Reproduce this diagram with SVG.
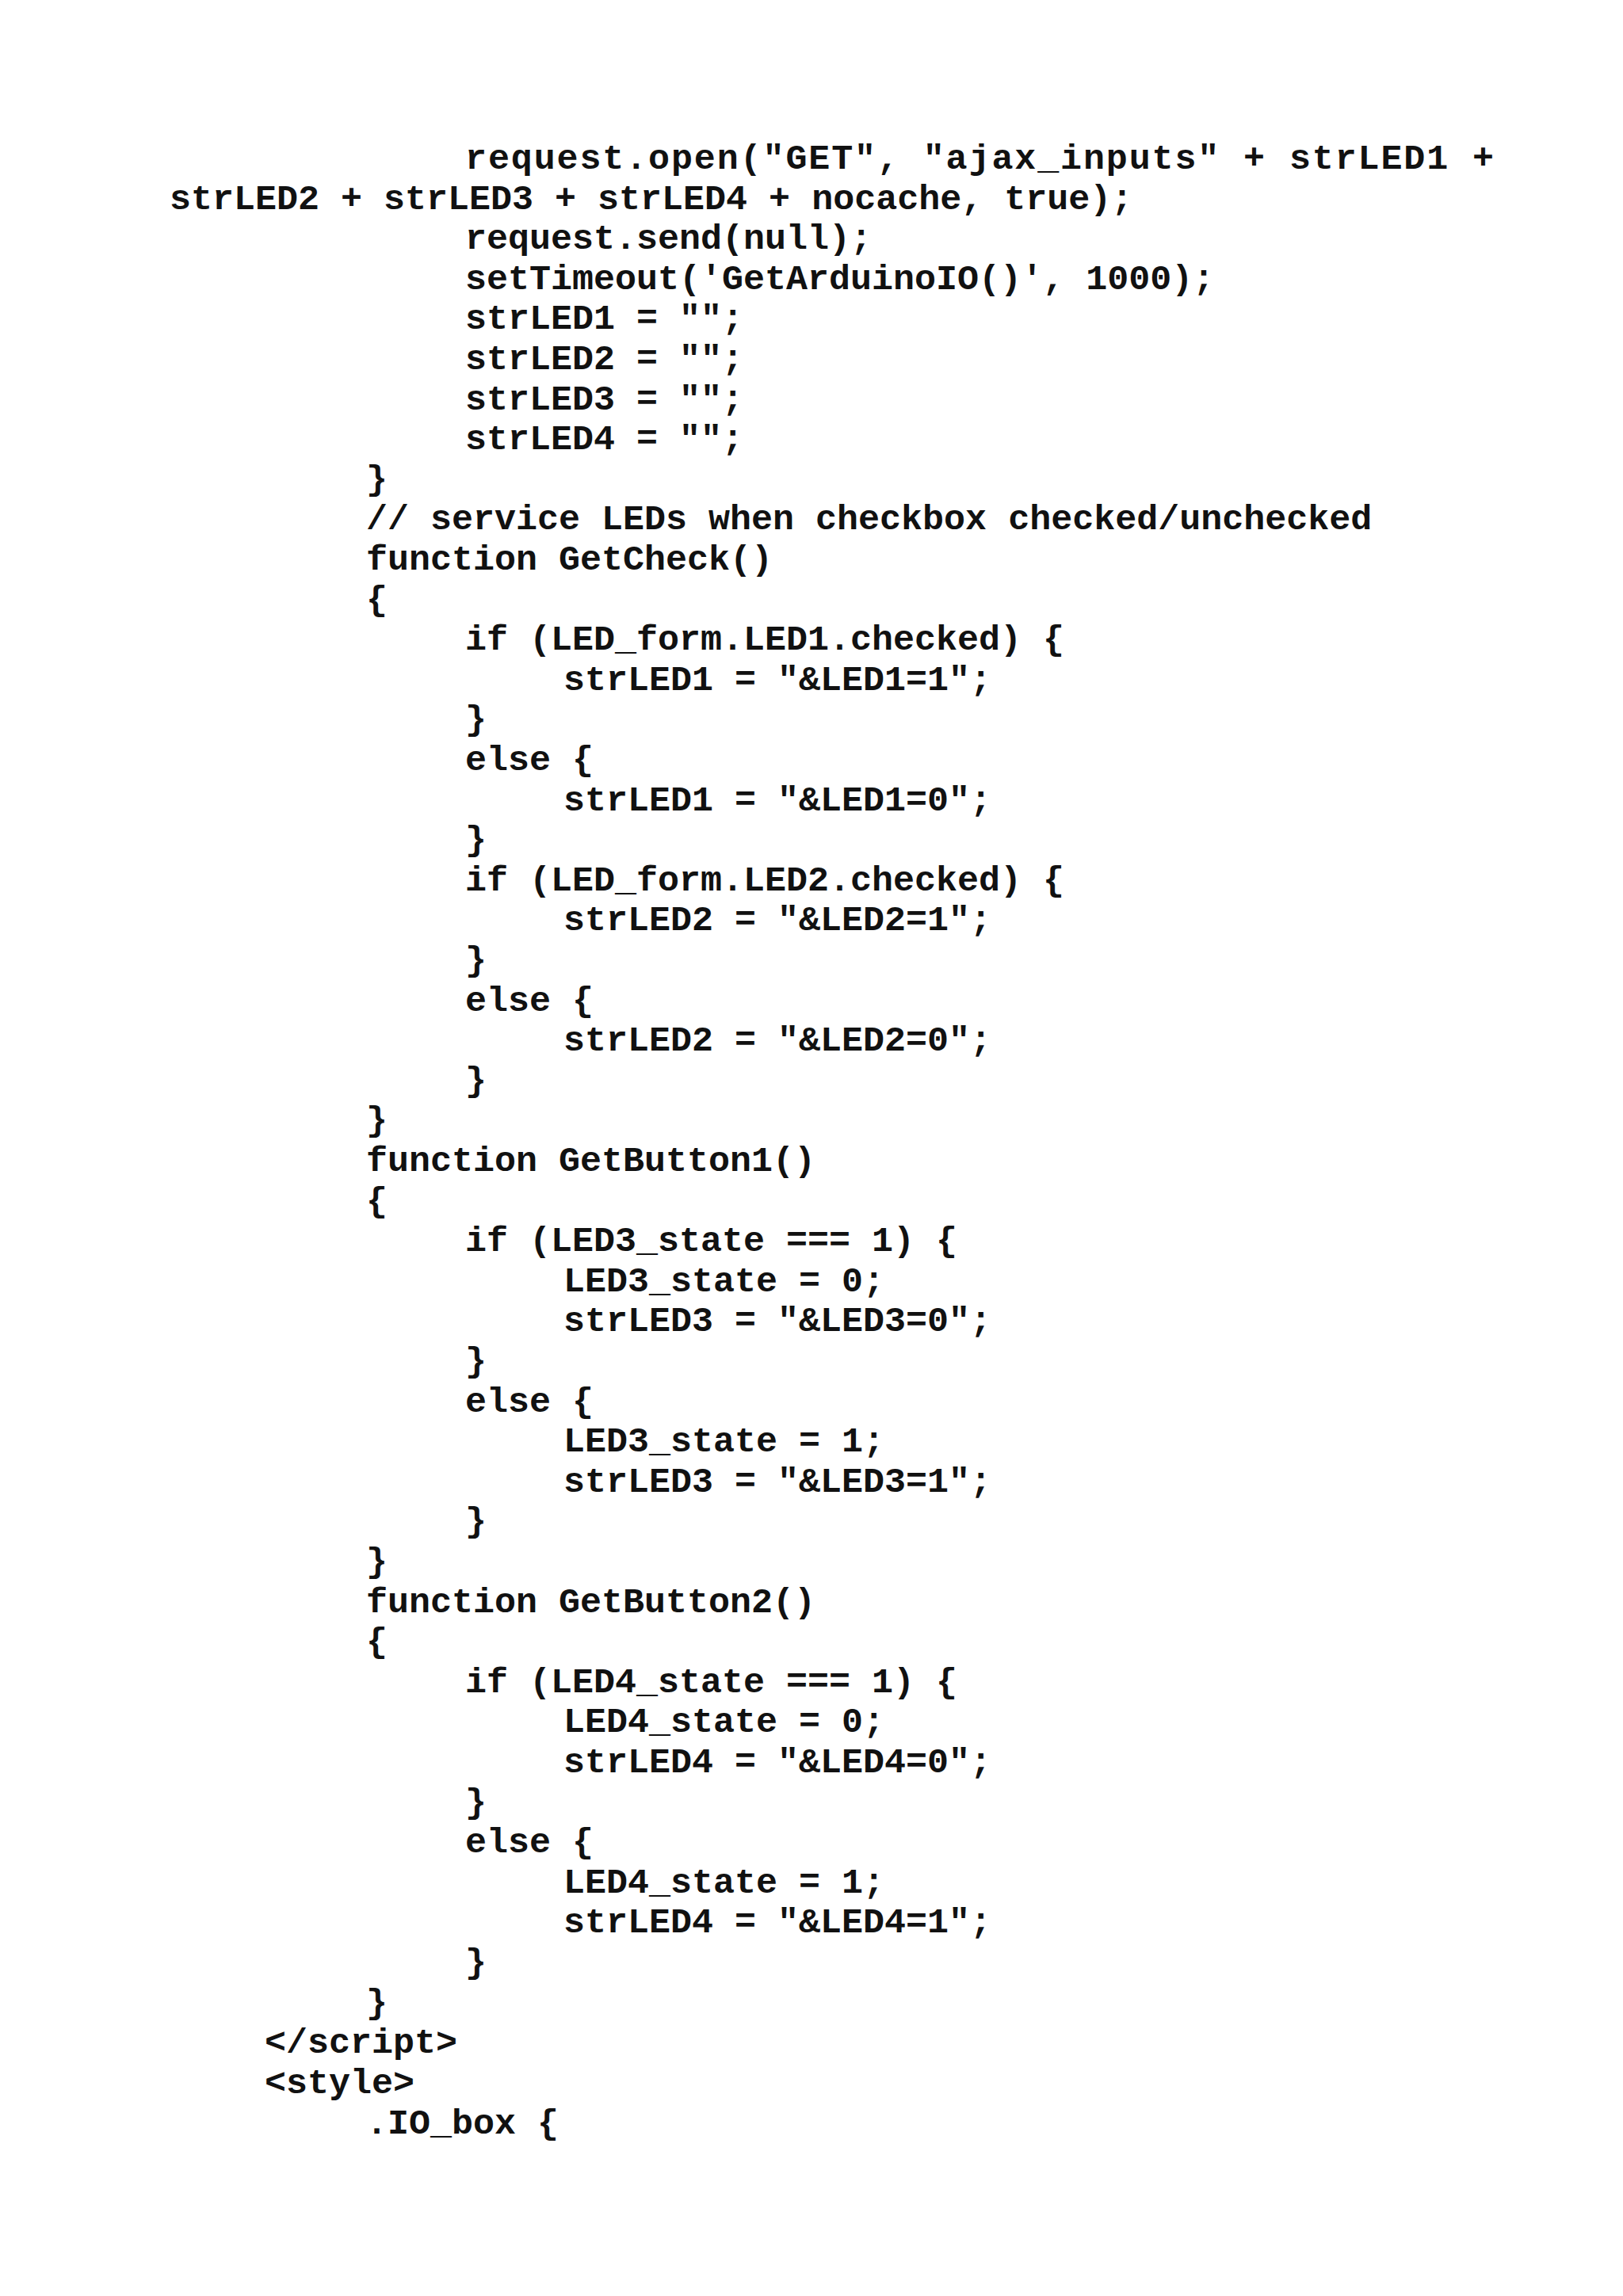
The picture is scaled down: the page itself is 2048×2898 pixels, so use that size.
<svg xmlns="http://www.w3.org/2000/svg" width="2048" height="2898" viewBox="0 0 2048 2898">
<style>text{font-family:"Liberation Mono","Courier New",monospace;font-weight:bold;font-size:45px;fill:#111;white-space:pre}</style>
<rect width="2048" height="2898" fill="#fff"/>
<g id="code" xml:space="preserve">
<text x="587" y="213" textLength="1298" lengthAdjust="spacing">request.open("GET", "ajax_inputs" + strLED1 +</text>
<text x="214" y="264">strLED2 + strLED3 + strLED4 + nocache, true);</text>
<text x="587" y="314">request.send(null);</text>
<text x="587" y="365">setTimeout('GetArduinoIO()', 1000);</text>
<text x="587" y="415">strLED1 = "";</text>
<text x="587" y="466">strLED2 = "";</text>
<text x="587" y="517">strLED3 = "";</text>
<text x="587" y="567">strLED4 = "";</text>
<text x="462" y="618">}</text>
<text x="462" y="668">// service LEDs when checkbox checked/unchecked</text>
<text x="462" y="719">function GetCheck()</text>
<text x="462" y="770">{</text>
<text x="587" y="820">if (LED_form.LED1.checked) {</text>
<text x="711" y="871">strLED1 = "&amp;LED1=1";</text>
<text x="587" y="921">}</text>
<text x="587" y="972">else {</text>
<text x="711" y="1023">strLED1 = "&amp;LED1=0";</text>
<text x="587" y="1073">}</text>
<text x="587" y="1124">if (LED_form.LED2.checked) {</text>
<text x="711" y="1174">strLED2 = "&amp;LED2=1";</text>
<text x="587" y="1225">}</text>
<text x="587" y="1276">else {</text>
<text x="711" y="1326">strLED2 = "&amp;LED2=0";</text>
<text x="587" y="1377">}</text>
<text x="462" y="1427">}</text>
<text x="462" y="1478">function GetButton1()</text>
<text x="462" y="1529">{</text>
<text x="587" y="1579">if (LED3_state === 1) {</text>
<text x="711" y="1630">LED3_state = 0;</text>
<text x="711" y="1680">strLED3 = "&amp;LED3=0";</text>
<text x="587" y="1731">}</text>
<text x="587" y="1782">else {</text>
<text x="711" y="1832">LED3_state = 1;</text>
<text x="711" y="1883">strLED3 = "&amp;LED3=1";</text>
<text x="587" y="1933">}</text>
<text x="462" y="1984">}</text>
<text x="462" y="2035">function GetButton2()</text>
<text x="462" y="2085">{</text>
<text x="587" y="2136">if (LED4_state === 1) {</text>
<text x="711" y="2186">LED4_state = 0;</text>
<text x="711" y="2237">strLED4 = "&amp;LED4=0";</text>
<text x="587" y="2288">}</text>
<text x="587" y="2338">else {</text>
<text x="711" y="2389">LED4_state = 1;</text>
<text x="711" y="2439">strLED4 = "&amp;LED4=1";</text>
<text x="587" y="2490">}</text>
<text x="462" y="2541">}</text>
<text x="334" y="2591">&lt;/script&gt;</text>
<text x="334" y="2642">&lt;style&gt;</text>
<text x="462" y="2693">.IO_box {</text>
</g>
</svg>
